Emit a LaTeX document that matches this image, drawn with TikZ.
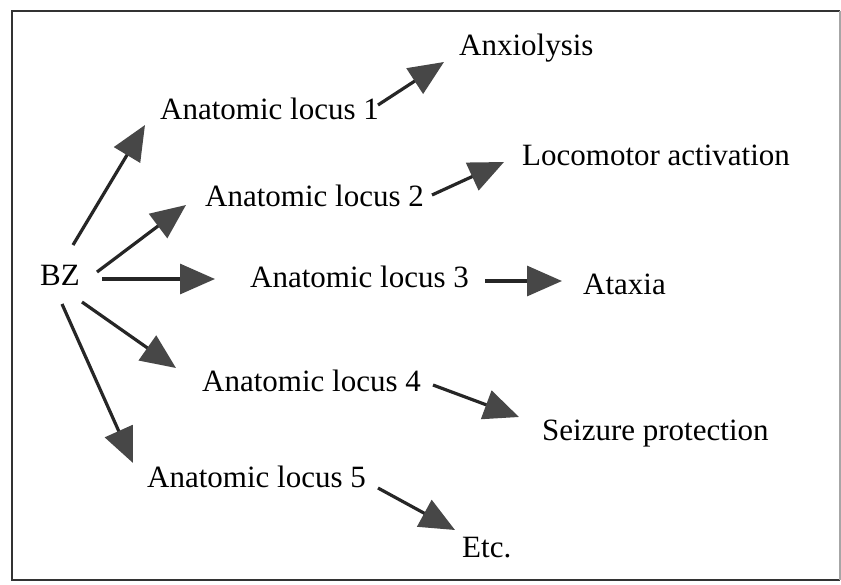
\documentclass[tikz,border=0pt]{standalone}
\usepackage{fontspec}
\setmainfont{Liberation Serif}
\usetikzlibrary{arrows.meta}
\begin{document}
\begin{tikzpicture}[x=1pt,y=-1pt,
  lbl/.style={inner sep=0pt,anchor=base west,font=\fontsize{31}{36}\selectfont},
  arr/.style={draw=black!85,line width=3.2pt,
    -{Triangle[length=35pt,width=30pt,color=black!72,fill=black!72]}}]
\useasboundingbox (0,0) rectangle (841,584);
% frame
\draw[black!80,line width=2.8pt] (840,11) -- (12,11) -- (12,580) -- (840,580);
\draw[black!35,line width=1.5pt] (840,11) -- (840,580);

% labels
\node[lbl] (bz) at (40,285) {BZ};
\node[lbl] (l1) at (160,119) {Anatomic locus 1};
\node[lbl] (l2) at (205,206) {Anatomic locus 2};
\node[lbl] (l3) at (250,287) {Anatomic locus 3};
\node[lbl] (l4) at (202,391) {Anatomic locus 4};
\node[lbl] (l5) at (147,487) {Anatomic locus 5};
\node[lbl] (ax) at (459,55)  {Anxiolysis};
\node[lbl] (lo) at (522,165) {Locomotor activation};
\node[lbl] (at) at (583,294) {Ataxia};
\node[lbl] (sz) at (542,440) {Seizure protection};
\node[lbl] (et) at (462,557) {Etc.};

% BZ to the anatomic loci
\draw[arr] ([shift={(33,-40)}]bz.base west) -- ([shift={(-15,6)}]l1.base west);
\draw[arr] ([shift={(57,-13)}]bz.base west) -- ([shift={(-19,-1)}]l2.base west);
\draw[arr] ([shift={(62,-6)}]bz.base west)  -- ([shift={(-35,-8)}]l3.base west);
\draw[arr] ([shift={(42,17)}]bz.base west)  -- ([shift={(-26,-23)}]l4.base west);
\draw[arr] ([shift={(22,19)}]bz.base west)  -- ([shift={(-14,-24)}]l5.base west);

% loci to effects
\draw[arr] ([shift={(218,-14)}]l1.base west) -- ([shift={(-15,7)}]ax.base west);
\draw[arr] ([shift={(227,-11)}]l2.base west) -- ([shift={(-18,-3)}]lo.base west);
\draw[arr] ([shift={(235,-6)}]l3.base west)  -- ([shift={(-21,-13)}]at.base west);
\draw[arr] ([shift={(231,-6)}]l4.base west)  -- ([shift={(-23,-23)}]sz.base west);
\draw[arr] ([shift={(231,1)}]l5.base west)   -- ([shift={(-7,-27)}]et.base west);
\end{tikzpicture}
\end{document}
